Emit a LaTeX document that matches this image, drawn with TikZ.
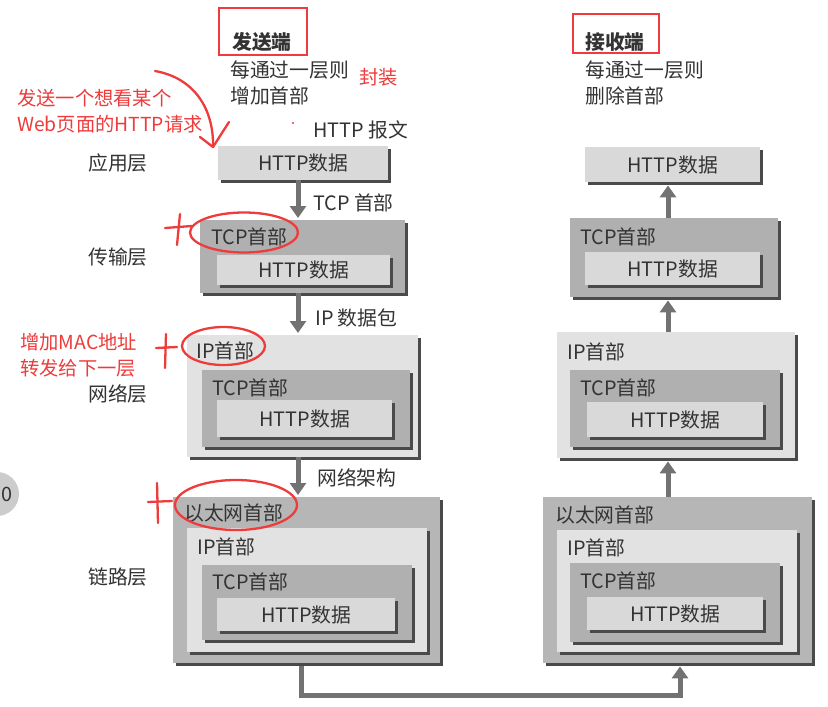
\documentclass[tikz,border=0pt]{standalone}
\usepackage{fontspec}
\setmainfont{Noto Sans CJK SC}
\usetikzlibrary{arrows.meta,shadows,calc}
\definecolor{txt}{HTML}{333333}
\definecolor{redm}{HTML}{EE3B3B}
\definecolor{httpc}{HTML}{D9D9D9}
\definecolor{tcpc}{HTML}{B0B0B0}
\definecolor{ipc}{HTML}{E2E2E2}
\definecolor{ethc}{HTML}{B6B6B6}
\definecolor{shad}{HTML}{4A4A4A}
\definecolor{arr}{HTML}{727272}
\tikzset{
  pktbox/.style={rectangle, inner sep=0pt, anchor=north west, text=txt,
    font=\fontsize{19.8}{23}\selectfont,
    drop shadow={shadow xshift=2.5pt, shadow yshift=-2.5pt, fill=shad, opacity=1}},
  httpbox/.style={pktbox, fill=httpc},
  tcpbox/.style={pktbox, fill=tcpc},
  ipbox/.style={pktbox, fill=ipc},
  ethbox/.style={pktbox, fill=ethc},
  lbl/.style={font=\fontsize{19.8}{23}\selectfont, text=txt, inner sep=0pt},
  hdr/.style={lbl, anchor=west},
  redtxt/.style={font=\fontsize{19.3}{22}\selectfont, text=redm, inner sep=0pt, anchor=west},
  flow/.style={draw=arr, line width=5pt, -{Triangle[width=16pt,length=12pt]}},
  pen/.style={draw=redm, line width=2.3pt, line cap=round, line join=round},
  redframe/.style={draw=redm, line width=2.5pt}
}
\newcommand\pkt[6]{\node[#6, minimum width={(#4-#2)*1pt}, minimum height={(#5-#3)*1pt}] (#1) at (#2,#3) {};}
\begin{document}
\begin{tikzpicture}[x=1pt,y=-1pt]
\useasboundingbox (0,0) rectangle (828,707);
\fill[white] (0,0) rectangle (828,707);
% partial gray circle at left edge
\begin{scope}
  \clip (0,0) rectangle (828,707);
  \fill[gray!40] (-3,494) circle (22);
  \node[lbl, text=black!80] (cut) at (7,494) {0};
\end{scope}

% ---------- headers ----------
\draw[redframe] (219,8) rectangle (307,55);
\node[lbl, anchor=west, font=\fontsize{19.8}{23}\selectfont\bfseries] (sendh) at (232,42) {发送端};
\node[lbl, anchor=west] (send1) at (230,70) {每通过一层则};
\node[lbl, anchor=west] (send2) at (230,96) {增加首部};
\node[redtxt] (feng) at (359,77) {封装};

\draw[redframe] (573,14) rectangle (659,53);
\node[lbl, anchor=west, font=\fontsize{19.8}{23}\selectfont\bfseries] (recvh) at (585,42) {接收端};
\node[lbl, anchor=west] (recv1) at (585,70) {每通过一层则};
\node[lbl, anchor=west] (recv2) at (585,96) {删除首部};

\node[lbl, anchor=west] (msg) at (313,130) {HTTP 报文};
\fill[redm] (293,123) circle (1.2);

% ---------- layer names ----------
\node[lbl] (layA) at (118,163) {应用层};
\node[lbl] (layT) at (118,257) {传输层};
\node[lbl] (layN) at (118,394) {网络层};
\node[lbl] (layL) at (118,577) {链路层};

% ---------- sender ----------
\pkt{sA}{218}{146}{388}{180}{httpbox}
\node[lbl] at (sA.center) {HTTP数据};

\pkt{sT}{200}{220}{405}{293}{tcpbox}
\pkt{sTH}{217}{255}{390}{285}{httpbox}
\node[lbl] at (sTH.center) {HTTP数据};
\node[hdr] (sTt) at ($(sT.north west)+(11,17)$) {TCP首部};

\pkt{sN}{187}{335}{418}{457}{ipbox}
\pkt{sNT}{202}{370}{410}{447}{tcpbox}
\pkt{sNH}{217}{400}{392}{437}{httpbox}
\node[lbl] at (sNH.center) {HTTP数据};
\node[hdr] (sNi) at ($(sN.north west)+(9,16)$) {IP首部};
\node[hdr] (sNt) at ($(sNT.north west)+(10,18)$) {TCP首部};

\pkt{sL}{173}{497}{440}{663}{ethbox}
\pkt{sLI}{187}{528}{427}{652}{ipbox}
\pkt{sLT}{202}{565}{412}{640}{tcpbox}
\pkt{sLH}{217}{598}{395}{631}{httpbox}
\node[lbl] at (sLH.center) {HTTP数据};
\node[hdr] (sLe) at ($(sL.north west)+(11,16)$) {以太网首部};
\node[hdr] (sLi) at ($(sLI.north west)+(10,19)$) {IP首部};
\node[hdr] (sLt) at ($(sLT.north west)+(10,17)$) {TCP首部};

% ---------- receiver ----------
\pkt{rA}{585}{147}{760}{182}{httpbox}
\node[lbl] at (rA.center) {HTTP数据};

\pkt{rT}{570}{218}{778}{297}{tcpbox}
\pkt{rTH}{585}{252}{760}{285}{httpbox}
\node[lbl] at (rTH.center) {HTTP数据};
\node[hdr] (rTt) at ($(rT.north west)+(10,19)$) {TCP首部};

\pkt{rN}{557}{332}{795}{458}{ipbox}
\pkt{rNT}{570}{370}{780}{447}{tcpbox}
\pkt{rNH}{587}{402}{763}{437}{httpbox}
\node[lbl] at (rNH.center) {HTTP数据};
\node[hdr] (rNi) at ($(rN.north west)+(10,20)$) {IP首部};
\node[hdr] (rNt) at ($(rNT.north west)+(10,18)$) {TCP首部};

\pkt{rL}{543}{497}{812}{663}{ethbox}
\pkt{rLI}{557}{530}{797}{652}{ipbox}
\pkt{rLT}{570}{563}{780}{642}{tcpbox}
\pkt{rLH}{587}{597}{763}{630}{httpbox}
\node[lbl] at (rLH.center) {HTTP数据};
\node[hdr] (rLe) at ($(rL.north west)+(12,18)$) {以太网首部};
\node[hdr] (rLi) at ($(rLI.north west)+(10,18)$) {IP首部};
\node[hdr] (rLt) at ($(rLT.north west)+(10,18)$) {TCP首部};

% ---------- arrows ----------
\coordinate (sx) at (298,0);
\coordinate (rx) at (668,0);
\draw[flow] (sA.south -| sx) -- ($(sT.north -| sx)+(0,-2)$);
\draw[flow] (sT.south -| sx) -- ($(sN.north -| sx)+(0,-2)$);
\draw[flow] (sN.south -| sx) -- ($(sL.north -| sx)+(0,-2)$);
\node[lbl, anchor=west] (aTCP) at (313,203) {TCP 首部};
\node[lbl, anchor=west] (aIP) at (315,318) {IP 数据包};
\node[lbl, anchor=west] (aNet) at (317,478) {网络架构};

\draw[flow] (rT.north -| rx) -- ($(rA.south -| rx)+(0,3)$);
\draw[flow] (rN.north -| rx) -- ($(rT.south -| rx)+(0,3)$);
\draw[flow] (rL.north -| rx) -- ($(rN.south -| rx)+(0,3)$);

\coordinate (b1) at (301,695);
\coordinate (b2) at (680,695);
\draw[flow, line join=miter] ($(sL.south -| b1)+(0,3)$) |- (b2) -- ($(rL.south -| b2)+(0,3)$);

% ---------- red annotations ----------
\node[redtxt] (note1) at (17,98) {发送一个想看某个};
\node[redtxt] (note2) at (17,124) {Web页面的HTTP请求};
\coordinate (tip) at (213,147);
\draw[pen] (155,71) .. controls (195,78) and (214,110) .. (tip);
\draw[pen] (200,137) -- (tip) -- (229,122);

\node[redtxt] (note3) at (20,342) {增加MAC地址};
\node[redtxt] (note4) at (20,368) {转发给下一层};

\draw[pen] (244,232.5) ellipse [x radius=54, y radius=20];
\draw[pen] (165,228) -- (192,226);
\draw[pen] (180,214) -- (177,245);

\draw[pen] (223.5,346) ellipse [x radius=41.5, y radius=19];
\draw[pen] (156,348) -- (177,347);
\draw[pen] (166,334) -- (165,368);

\draw[pen] (236,505) ellipse [x radius=61, y radius=25];
\draw[pen] (148,502) -- (172,501);
\draw[pen] (157,483) -- (158,523);
\end{tikzpicture}
\end{document}
